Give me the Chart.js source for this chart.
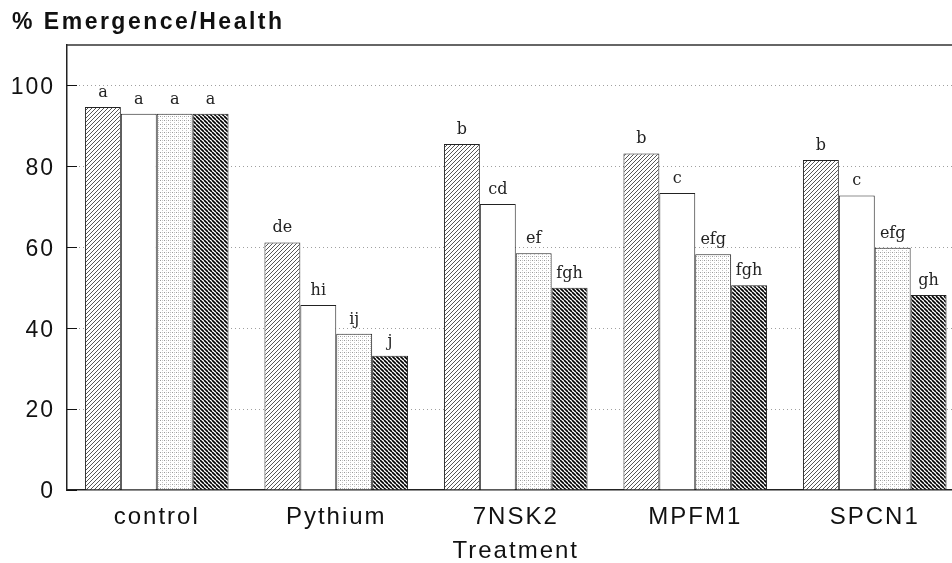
<!DOCTYPE html>
<html>
<head>
<meta charset="utf-8">
<script src="https://cdn.jsdelivr.net/npm/chart.js@4.4.1/dist/chart.umd.min.js"></script>
<style>
  html, body { margin: 0; padding: 0; overflow: hidden; background: #fff; }
  canvas { display: block; }
</style>
</head>
<body>
<canvas id="chart" width="980" height="563"></canvas>
<script>
// values (% emergence / health)
const categories = ['control', 'Pythium', '7NSK2', 'MPFM1', 'SPCN1'];
const series1 = [94.7, 61.2, 85.5, 83.2, 81.6];
const series2 = [93.0, 45.7, 70.7, 73.4, 72.8];
const series3 = [93.0, 38.6, 58.5, 58.3, 59.9];
const series4 = [93.0, 33.2, 50.0, 50.6, 48.2];

// significance letters above each bar
const letters1 = ['a', 'de', 'b', 'b', 'b'];
const letters2 = ['a', 'hi', 'cd', 'c', 'c'];
const letters3 = ['a', 'ij', 'ef', 'efg', 'efg'];
const letters4 = ['a', 'j', 'fgh', 'fgh', 'gh'];

const yTicks = [0, 20, 40, 60, 80, 100];
const yMax = 110;

const SANS = '"Liberation Sans", Arial, Helvetica, sans-serif';
const SERIF = '"DejaVu Serif", "Liberation Serif", serif';

// fill patterns
function hatch(dir, color, width, bg, size) {
  const c = document.createElement('canvas');
  c.width = size; c.height = size;
  const g = c.getContext('2d');
  g.fillStyle = bg;
  g.fillRect(0, 0, size, size);
  g.strokeStyle = color;
  g.lineWidth = width;
  g.beginPath();
  for (let k = -1; k <= 1; k++) {
    if (dir === '/') {
      g.moveTo(k * size, size);
      g.lineTo(k * size + size, 0);
    } else {
      g.moveTo(k * size, 0);
      g.lineTo(k * size + size, size);
    }
  }
  g.stroke();
  return g.createPattern(c, 'repeat');
}

function stipple() {
  const c = document.createElement('canvas');
  c.width = 4; c.height = 4;
  const g = c.getContext('2d');
  g.fillStyle = '#fff';
  g.fillRect(0, 0, 4, 4);
  g.fillStyle = '#9a9a9a';
  g.fillRect(0, 0, 1, 1);
  g.fillStyle = '#c4c4c4';
  g.fillRect(2, 2, 1, 1);
  g.fillRect(2, 0, 1, 1);
  return g.createPattern(c, 'repeat');
}

const fill1 = hatch('/', '#444', 0.9, '#fff', 4);
const fill2 = '#ffffff';
const fill3 = stipple();
const fill4 = hatch('\\', '#000', 1.6, '#fff', 4);

const allLetters = [letters1, letters2, letters3, letters4];

const figurePlugin = {
  id: 'figure',
  beforeUpdate(chart) {
    chart.ctx.letterSpacing = '2px';
  },
  beforeDraw(chart) {
    chart.ctx.letterSpacing = '2px';
  },
  beforeDatasetsDraw(chart) {
    const {ctx, chartArea} = chart;
    const y = chart.scales.y;
    ctx.save();
    // dotted grid lines
    ctx.strokeStyle = '#a0a0a0';
    ctx.lineWidth = 1;
    ctx.setLineDash([1, 3]);
    yTicks.forEach(v => {
      if (v === 0) return;
      const py = Math.round(y.getPixelForValue(v)) + 0.5;
      ctx.beginPath();
      ctx.moveTo(chartArea.left, py);
      ctx.lineTo(chartArea.right, py);
      ctx.stroke();
    });
    ctx.setLineDash([]);
    // top frame
    ctx.strokeStyle = '#333';
    ctx.lineWidth = 1.5;
    const top = y.getPixelForValue(yMax);
    ctx.beginPath();
    ctx.moveTo(chartArea.left, top);
    ctx.lineTo(chartArea.right, top);
    ctx.stroke();
    // inward tick marks
    ctx.strokeStyle = '#111';
    ctx.lineWidth = 1;
    yTicks.forEach(v => {
      const py = Math.round(y.getPixelForValue(v)) + 0.5;
      ctx.beginPath();
      ctx.moveTo(chartArea.left, py);
      ctx.lineTo(chartArea.left + 10, py);
      ctx.stroke();
    });
    ctx.restore();
  },
  afterDatasetsDraw(chart) {
    const ctx = chart.ctx;
    ctx.save();
    ctx.letterSpacing = '0px';
    ctx.font = '16px ' + SERIF;
    ctx.fillStyle = '#222';
    ctx.textAlign = 'center';
    ctx.textBaseline = 'alphabetic';
    chart.data.datasets.forEach((ds, d) => {
      chart.getDatasetMeta(d).data.forEach((bar, i) => {
        ctx.fillText(allLetters[d][i], bar.x, bar.y - 10);
      });
    });
    ctx.restore();
  },
  afterDraw(chart) {
    const ctx = chart.ctx;
    ctx.save();
    ctx.letterSpacing = '2.5px';
    ctx.font = 'bold 23px ' + SANS;
    ctx.fillStyle = '#111';
    ctx.textAlign = 'left';
    ctx.textBaseline = 'alphabetic';
    ctx.fillText('% Emergence/Health', 12, 29);
    ctx.restore();
  }
};

const ctx = document.getElementById('chart').getContext('2d');

new Chart(ctx, {
  type: 'bar',
  data: {
    labels: categories,
    datasets: [
      { data: series1, backgroundColor: fill1 },
      { data: series2, backgroundColor: fill2 },
      { data: series3, backgroundColor: fill3 },
      { data: series4, backgroundColor: fill4 }
    ].map(ds => Object.assign(ds, {
      borderColor: '#222',
      borderWidth: 1,
      borderSkipped: 'bottom',
      categoryPercentage: 0.8,
      barPercentage: 1.0
    }))
  },
  options: {
    responsive: false,
    animation: false,
    layout: { padding: { top: 45, left: 0, right: 15.5, bottom: 0 } },
    plugins: {
      legend: { display: false },
      tooltip: { enabled: false },
      title: { display: false }
    },
    scales: {
      x: {
        grid: { display: false, drawTicks: false },
        border: { display: true, color: '#222', width: 1.5 },
        ticks: {
          color: '#111',
          padding: 13,
          font: { family: SANS, size: 24 }
        },
        title: {
          display: true,
          text: 'Treatment',
          color: '#111',
          padding: 0,
          font: { family: SANS, size: 24, lineHeight: 1 }
        },
        afterFit(scale) { scale.height = 73; }
      },
      y: {
        min: 0,
        max: yMax,
        grid: { drawOnChartArea: false, drawTicks: false },
        border: { display: true, color: '#222', width: 1.5 },
        afterBuildTicks(scale) {
          scale.ticks = yTicks.map(v => ({ value: v }));
        },
        ticks: {
          color: '#111',
          padding: 12,
          labelOffset: 2,
          font: { family: SANS, size: 23 }
        },
        afterFit(scale) { scale.width = 67; }
      }
    }
  },
  plugins: [figurePlugin]
});
</script>
</body>
</html>
